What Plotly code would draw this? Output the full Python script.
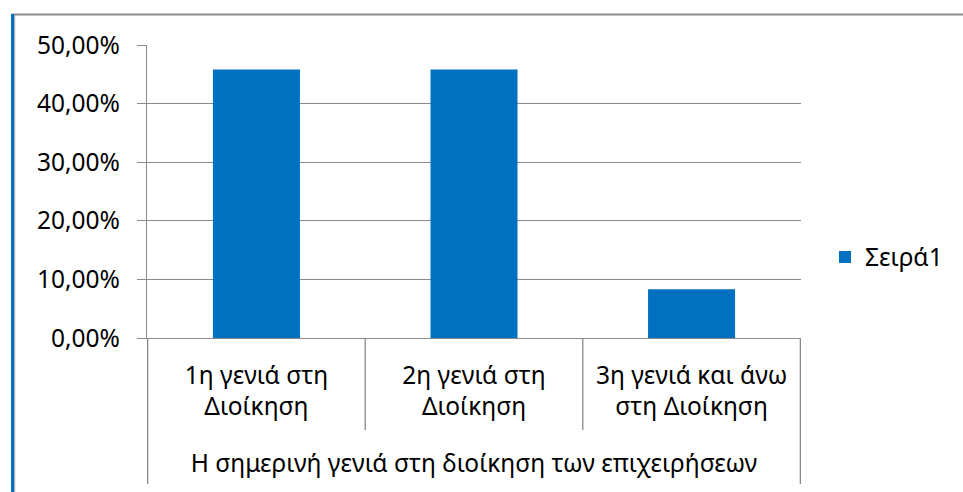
import plotly.graph_objects as go

# Share of firms by the generation currently managing them
categories = ["1η γενιά στη<br>Διοίκηση", "2η γενιά στη<br>Διοίκηση", "3η γενιά και άνω<br>στη Διοίκηση"]
values = [0.4583, 0.4583, 0.0833]
series_name = "Σειρά1"
group_label = "Η σημερινή γενιά στη διοίκηση των επιχειρήσεων"

W, H = 963, 492
L, R, T, B = 147, 162, 45, 154
plot_w, plot_h = W - L - R, H - T - B

def px_x(px):
    return (px - L) / plot_w

def px_y(py):
    return (H - B - py) / plot_h

BLUE = "#0070C0"
GRID = "#8a8a8a"
FONT = "Noto Sans"
FS = 24.5

fig = go.Figure(
    go.Bar(
        x=categories,
        y=values,
        name=series_name,
        marker=dict(color=BLUE, line=dict(width=0)),
        showlegend=True,
    )
)

shapes = []
# category dividers below the axis (inner ones short, outer ones full depth)
n = len(categories)
for i in range(n + 1):
    b = i - 0.5
    outer = i in (0, n)
    shapes.append(dict(
        type="line", xref="x", yref="paper",
        x0=b, x1=b, y0=0, y1=px_y(484 if outer else 430),
        line=dict(color=GRID, width=1.3),
    ))

# chart frame: grey top edge, blue + grey left edge
shapes.append(dict(type="line", xref="paper", yref="paper",
                   x0=px_x(12), x1=px_x(963), y0=px_y(14.5), y1=px_y(14.5),
                   line=dict(color="#8c8c8c", width=2)))
shapes.append(dict(type="line", xref="paper", yref="paper",
                   x0=px_x(12.5), x1=px_x(12.5), y0=px_y(14), y1=px_y(492),
                   line=dict(color=BLUE, width=3)))
shapes.append(dict(type="line", xref="paper", yref="paper",
                   x0=px_x(14.7), x1=px_x(14.7), y0=px_y(14), y1=px_y(492),
                   line=dict(color="#9a9a9a", width=1)))

fig.update_layout(
    width=W, height=H,
    margin=dict(l=L, r=R, t=T, b=B, pad=0),
    paper_bgcolor="white", plot_bgcolor="white",
    separators=",.",
    font=dict(family=FONT, size=FS, color="black"),
    bargap=0.6,
    shapes=shapes,
    legend=dict(
        x=px_x(825), y=px_y(257), xanchor="left", yanchor="middle",
        font=dict(family=FONT, size=FS, color="black"),
        bgcolor="rgba(0,0,0,0)", borderwidth=0,
        itemwidth=30,
    ),
    xaxis=dict(
        type="category",
        showline=True, linecolor=GRID, linewidth=1.3,
        showgrid=False, ticks="", ticklabelstandoff=15,
        tickfont=dict(family=FONT, size=FS, color="black"),
        title=dict(text=group_label, standoff=33,
                   font=dict(family=FONT, size=FS, color="black")),
        fixedrange=True,
    ),
    yaxis=dict(
        range=[0, 0.5], dtick=0.1, tick0=0,
        tickformat=".2%",
        showline=True, linecolor=GRID, linewidth=1.3,
        showgrid=True, gridcolor=GRID, gridwidth=1.3,
        ticks="outside", ticklen=9, tickcolor=GRID, tickwidth=1.3,
        ticklabelstandoff=12,
        tickfont=dict(family=FONT, size=FS, color="black"),
        zeroline=False,
        fixedrange=True,
    ),
)

fig.write_html("out.html")
